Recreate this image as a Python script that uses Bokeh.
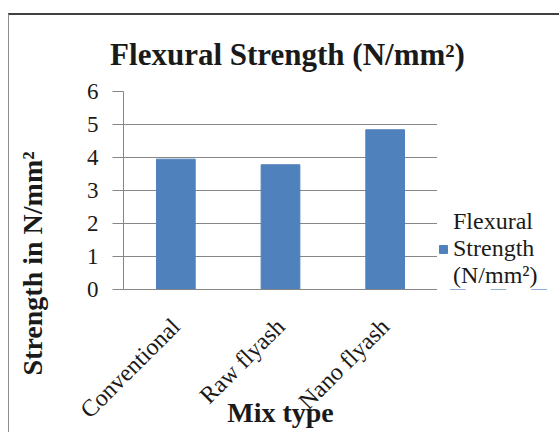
import math
from bokeh.plotting import figure
from bokeh.layouts import column, row
from bokeh.models import FactorRange, Range1d, Legend, LegendItem, ColumnDataSource, Label, Title
from bokeh.embed import file_html
from bokeh.resources import INLINE

# ---- data ----
categories = ["Conventional", "Raw flyash", "Nano flyash"]
flexural_strength = [3.95, 3.78, 4.84]
y_ticks = [0, 1, 2, 3, 4, 5, 6]

title_text = "Flexural Strength (N/mm²)"
series_name = "Flexural\nStrength\n(N/mm²)"
x_title = "Mix type"
y_title = "Strength in N/mm²"

FONT = "Liberation Serif"
BAR = "#4F81BD"
GRID = "#868686"
TEXT = "#1a1a1a"


def blank(width, height, **kw):
    f = figure(width=width, height=height, title=None,
               x_range=Range1d(0, 1), y_range=Range1d(0, 1),
               x_axis_location=None, y_axis_location=None,
               output_backend="svg", toolbar_location=None, **kw)
    f.outline_line_color = None
    f.grid.visible = False
    return f


source = ColumnDataSource(dict(x=categories, y=flexural_strength))

# ---- title strip ----
t = blank(551, 63, min_border=0)
t.styles = {"border-top": "2px solid #404040", "border-left": "1px solid #8c8c8c"}
t.add_layout(Label(x=278, y=24, x_units="screen", y_units="screen", text=title_text,
                   text_align="center", text_baseline="alphabetic",
                   text_font=FONT, text_font_style="bold", text_font_size="31px",
                   text_color=TEXT))

# ---- y axis title strip ----
yt = blank(60, 356, min_border_left=40, min_border_right=0,
           min_border_top=15, min_border_bottom=143)
yt.styles = {"border-left": "1px solid #8c8c8c"}
yt.add_layout(Title(text=y_title, align="left", offset=-86, vertical_align="bottom",
                    standoff=4, text_font=FONT, text_font_style="bold",
                    text_font_size="28px", text_color=TEXT), "left")

# ---- main chart ----
p = figure(width=369, height=356, title=None,
           x_range=FactorRange(*categories), y_range=Range1d(0, 6),
           output_backend="svg", toolbar_location=None,
           min_border_left=55, min_border_right=0,
           min_border_top=15, min_border_bottom=143)
p.outline_line_color = None

p.vbar(x="x", top="y", width=0.37, source=source, fill_color=BAR, line_color=BAR)

p.xgrid.visible = False
p.ygrid.grid_line_color = GRID
p.ygrid.grid_line_width = 1

p.yaxis.ticker = y_ticks
p.yaxis.major_tick_out = 11
p.yaxis.major_tick_in = 0
p.yaxis.minor_tick_line_color = None
p.yaxis.axis_line_color = GRID
p.yaxis.major_tick_line_color = GRID
p.yaxis.major_label_text_font = FONT
p.yaxis.major_label_text_font_size = "23px"
p.yaxis.major_label_text_color = TEXT
p.yaxis.major_label_standoff = 14

p.xaxis.major_label_orientation = math.pi / 4
p.xaxis.major_tick_out = 0
p.xaxis.major_tick_in = 0
p.xaxis.axis_line_color = GRID
p.xaxis.major_label_text_font = FONT
p.xaxis.major_label_text_font_size = "24px"
p.xaxis.major_label_text_color = TEXT
p.xaxis.major_label_standoff = 33
p.xaxis.axis_label = x_title
p.xaxis.axis_label_text_font = FONT
p.xaxis.axis_label_text_font_style = "bold"
p.xaxis.axis_label_text_font_size = "28px"
p.xaxis.axis_label_text_color = TEXT
p.xaxis.axis_label_standoff = -38

# ---- legend strip (same series, drawn out of view so only its key shows) ----
q = figure(width=122, height=356, title=None,
           x_range=FactorRange(*categories), y_range=Range1d(10, 11),
           x_axis_location=None, y_axis_location=None,
           output_backend="svg", toolbar_location=None,
           min_border_left=0, min_border_right=0,
           min_border_top=15, min_border_bottom=143)
q.outline_line_color = None
q.grid.visible = False
key = q.vbar(x="x", top="y", width=0.37, source=source, fill_color=BAR, line_color=BAR)
legend = Legend(items=[LegendItem(label=series_name, renderers=[key])],
                location=(1, 0), margin=0, padding=0,
                border_line_color=None, background_fill_alpha=0,
                glyph_width=10, glyph_height=10, label_standoff=5,
                label_text_font=FONT, label_text_font_size="24px",
                label_text_color=TEXT, label_text_line_height=1.25)
q.add_layout(legend)

layout = column(t, row(yt, p, q), margin=(13, 0, 0, 8))

open("out.html", "w").write(file_html(layout, INLINE))
